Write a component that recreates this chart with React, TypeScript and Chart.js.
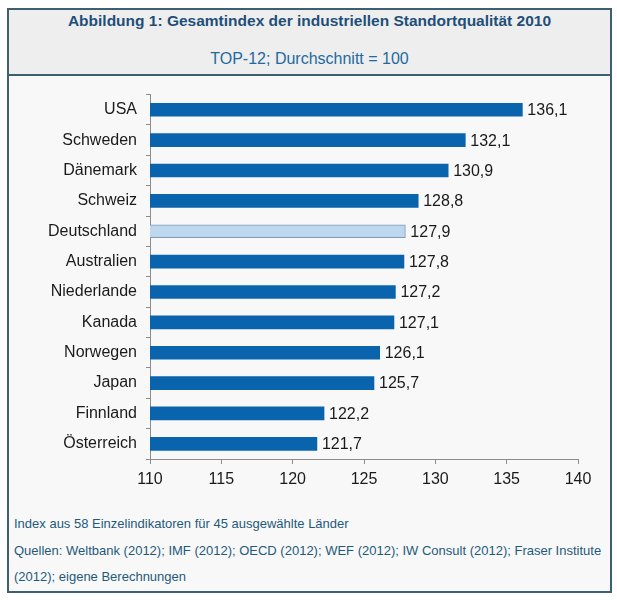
import React, { useEffect, useRef } from "react";
import { Chart, registerables } from "chart.js";

Chart.register(...registerables);

const countries = [
  "USA",
  "Schweden",
  "Dänemark",
  "Schweiz",
  "Deutschland",
  "Australien",
  "Niederlande",
  "Kanada",
  "Norwegen",
  "Japan",
  "Finnland",
  "Österreich",
];
const indexValues = [136.1, 132.1, 130.9, 128.8, 127.9, 127.8, 127.2, 127.1, 126.1, 125.7, 122.2, 121.7];
const highlightCountry = "Deutschland";
const xMin = 110;
const xMax = 140;
const xStep = 5;

const FONT = "'Liberation Sans', Arial, sans-serif";

const valueLabelPlugin = {
  id: "valueLabels",
  afterDatasetsDraw(chart: any) {
    const { ctx } = chart;
    const meta = chart.getDatasetMeta(0);
    ctx.save();
    ctx.font = `16px ${FONT}`;
    ctx.fillStyle = "#1a1a1a";
    ctx.textAlign = "left";
    ctx.textBaseline = "middle";
    meta.data.forEach((bar: any, i: number) => {
      const v = chart.data.datasets[0].data[i] as number;
      const txt = v.toFixed(1).replace(".", ",");
      ctx.fillText(txt, bar.x + 5, bar.y + 1);
    });
    ctx.restore();
  },
};

function BarChart() {
  const ref = useRef<HTMLCanvasElement>(null);
  useEffect(() => {
    if (!ref.current) return;
    const chart = new Chart(ref.current, {
      type: "bar",
      data: {
        labels: countries,
        datasets: [
          {
            data: indexValues,
            backgroundColor: countries.map((c) => (c === highlightCountry ? "#bdd7ee" : "#0a64ad")),
            borderColor: countries.map((c) => (c === highlightCountry ? "#7d9ab5" : "#0a64ad")),
            borderWidth: countries.map((c) => (c === highlightCountry ? 1 : 0)),
            borderSkipped: false,
            barThickness: 13,
          },
        ],
      },
      options: {
        indexAxis: "y",
        animation: false,
        responsive: false,
        maintainAspectRatio: false,
        layout: { padding: { top: 16, right: 32, left: 0, bottom: 0 } },
        plugins: { legend: { display: false }, tooltip: { enabled: false } },
        scales: {
          x: {
            min: xMin,
            max: xMax,
            ticks: {
              stepSize: xStep,
              color: "#1a1a1a",
              font: { family: FONT, size: 16 },
              padding: 6,
            },
            grid: { drawOnChartArea: false, tickLength: 5, color: "#8c8c8c" },
            border: { color: "#8c8c8c", width: 1 },
            afterFit: (s: any) => {
              s.height = 41;
            },
          },
          y: {
            ticks: {
              color: "#1a1a1a",
              font: { family: FONT, size: 16 },
              padding: 9,
              crossAlign: "near",
            },
            grid: { drawOnChartArea: false, tickLength: 4, color: "#8c8c8c", offset: true },
            border: { color: "#8c8c8c", width: 1 },
            afterFit: (s: any) => {
              s.width = 141;
            },
          },
        },
      },
      plugins: [valueLabelPlugin],
    } as any);
    return () => chart.destroy();
  }, []);
  return <canvas ref={ref} width={601} height={424} style={{ display: "block", width: 601, height: 424 }} />;
}

export default function App() {
  return (
    <div
      style={{
        position: "absolute",
        left: 7,
        top: 8,
        width: 605,
        height: 585,
        boxSizing: "border-box",
        border: "2px solid #3d5f6e",
        background: "#f8f8f8",
        fontFamily: FONT,
      }}
    >
      <div
        style={{
          position: "absolute",
          left: 0,
          top: 0,
          width: 601,
          height: 64,
          background: "#eeeeee",
          borderBottom: "2px solid #3d5f6e",
        }}
      >
        <div
          style={{
            position: "absolute",
            top: 2,
            width: "100%",
            textAlign: "center",
            fontWeight: "bold",
            fontSize: 15.5,
            color: "#1f4e79",
          }}
        >
          Abbildung 1: Gesamtindex der industriellen Standortqualität 2010
        </div>
        <div
          style={{
            position: "absolute",
            top: 40,
            width: "100%",
            textAlign: "center",
            fontSize: 16,
            color: "#1f6aa0",
          }}
        >
          TOP-12; Durchschnitt = 100
        </div>
      </div>
      <div style={{ position: "absolute", left: 0, top: 66 }}>
        <BarChart />
      </div>
      <div style={{ position: "absolute", left: 5, top: 501, width: 595, fontSize: 13, color: "#1f5a7a", lineHeight: "26px" }}>
        <div>Index aus 58 Einzelindikatoren für 45 ausgewählte Länder</div>
        <div style={{ marginTop: 1 }}>
          Quellen: Weltbank (2012); IMF (2012); OECD (2012); WEF (2012); IW Consult (2012); Fraser Institute (2012); eigene Berechnungen
        </div>
      </div>
    </div>
  );
}
